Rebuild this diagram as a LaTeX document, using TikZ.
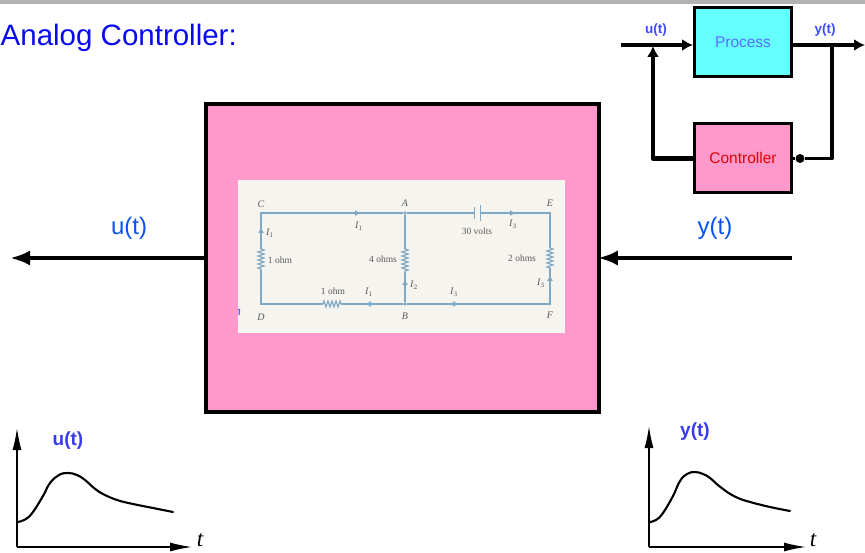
\documentclass[tikz,border=0pt]{standalone}
\usepackage{fontspec}
\setmainfont{Liberation Sans}
\newfontfamily\cserif{Liberation Serif}
\usetikzlibrary{arrows.meta,decorations.pathmorphing}
\definecolor{pinkbox}{HTML}{FF99CC}
\definecolor{cyanbox}{HTML}{66FFFF}
\definecolor{titleblue}{HTML}{0A0AF0}
\definecolor{lblblue}{HTML}{3A3AF0}
\definecolor{procblue}{HTML}{5A6CFF}
\definecolor{wire}{HTML}{7FA8C4}
\definecolor{ink}{HTML}{5A5A5A}
\definecolor{paper}{HTML}{F6F4EE}
\tikzset{
  x=1pt,y=-1pt,
  mainbox/.style={draw=black,line width=3.5pt,fill=pinkbox,minimum width=393pt,minimum height=308pt,inner sep=0pt},
  smallbox/.style={draw=black,line width=3pt,minimum width=97pt,minimum height=69pt,inner sep=0pt},
  bigarrow/.style={line width=4pt,-{Latex[length=20pt,width=15pt]}},
  sigline/.style={line width=3.4pt},
  sigarrow/.style={sigline,-{Latex[length=11pt,width=12pt]}},
  axisline/.style={line width=1.5pt,-{Latex[length=22pt,width=9pt]}},
  curveline/.style={line width=2.1pt,line cap=round},
  wireline/.style={draw=wire,line width=1.2pt},
  resist/.style={wireline,decorate,decoration={zigzag,amplitude=3pt,segment length=4pt}},
  tick/.style={wireline,-{Latex[length=6pt,width=6pt]}},
  ctxt/.style={text=ink,font=\cserif\fontsize{9.5}{10}\selectfont,inner sep=0pt},
  cvar/.style={text=ink,font=\cserif\itshape\fontsize{10}{10}\selectfont,inner sep=0pt},
  jdot/.style={circle,fill=wire,inner sep=0pt,minimum size=3.6pt},
  plain/.style={inner sep=0pt},
}
\begin{document}
\begin{tikzpicture}
\useasboundingbox (0,0) rectangle (865,553);
\fill[white] (0,0) rectangle (865,553);
\fill[black!30] (0,0) rectangle (865,4);

\node[plain,anchor=west,text=titleblue,font=\fontsize{29.5}{31}\selectfont] (title) at (0.5,38) {Analog Controller:};

% main box and signals
\node[mainbox] (main) at (402.5,258) {};
\coordinate (uend) at (10,258);
\coordinate (ystart) at (792,258);
\draw[bigarrow] (main.west) -- (uend);
\draw[bigarrow,shorten >=-3pt] (ystart) -- (main.east);
\node[plain,text=titleblue!70!cyan,font=\fontsize{24}{26}\selectfont] (ulab) at (129,228) {u(t)};
\node[plain,text=titleblue!70!cyan,font=\fontsize{24}{26}\selectfont] (ylab) at (715,228) {y(t)};

% circuit picture
\node[fill=paper,minimum width=327pt,minimum height=153pt,inner sep=0pt] (photo) at (401.5,256.5) {};
\coordinate (C) at (261,213);
\coordinate (E) at (550,213);
\coordinate (D) at (261,304);
\coordinate (F) at (550,304);
\node[jdot] (A) at (405,213) {};
\node[jdot] (B) at (405,304) {};
\coordinate (r1a) at (261,249); \coordinate (r1b) at (261,270);
\coordinate (r2a) at (405,249); \coordinate (r2b) at (405,272);
\coordinate (r3a) at (550,248); \coordinate (r3b) at (550,268);
\coordinate (r4a) at (323,304); \coordinate (r4b) at (341,304);
\coordinate (cap1) at (474.5,213); \coordinate (cap2) at (480.5,213);
\draw[wireline] (r1a) -- (C) -- (A) -- (cap1);
\draw[wireline] (cap2) -- (E) -- (r3a);
\draw[wireline] (r3b) -- (F) -- (B) -- (r4b);
\draw[wireline] (r4a) -- (D) -- (r1b);
\draw[wireline] (A) -- (r2a);
\draw[wireline] (r2b) -- (B);
\draw[resist] (r1a) -- (r1b);
\draw[resist] (r2a) -- (r2b);
\draw[resist] (r3a) -- (r3b);
\draw[resist] (r4a) -- (r4b);
\draw[wireline,line width=1.2pt] (474.5,207) -- (474.5,219);
\draw[wireline,line width=1.2pt] (480.5,205) -- (480.5,221);
\draw[tick] (352,213) -- (361,213);
\draw[tick] (507,213) -- (516,213);
\draw[tick] (261,236) -- (261,227);
\draw[tick] (405,288) -- (405,279);
\draw[tick] (550,284) -- (550,275);
\draw[tick] (374,304) -- (365,304);
\draw[tick] (458,304) -- (449,304);
\node[cvar] (lC) at (261,204) {C};
\node[cvar] (lA) at (405,203) {A};
\node[cvar] (lE) at (550,203) {E};
\node[cvar] (lD) at (261,317) {D};
\node[cvar] (lB) at (405,316) {B};
\node[cvar] (lF) at (550,315) {F};
\node[cvar] (i1) at (270,233) {I$_1$};
\node[cvar] (i2) at (359,226) {I$_1$};
\node[cvar] (i3) at (513,224) {I$_3$};
\node[cvar] (i4) at (541,283) {I$_3$};
\node[cvar] (i5) at (414,285) {I$_2$};
\node[cvar] (i6) at (454,292) {I$_3$};
\node[cvar] (i7) at (369,292) {I$_1$};
\node[ctxt] (v30) at (477,231) {30 volts};
\node[ctxt] (o1) at (280,260) {1 ohm};
\node[ctxt] (o4) at (383,259) {4 ohms};
\node[ctxt] (o2) at (522,258) {2 ohms};
\node[ctxt] (o1b) at (333,291) {1 ohm};
\draw[titleblue!70,line width=1.2pt] (238,309) -- (239.5,310) -- (239,315);

% block diagram
\node[smallbox,fill=cyanbox] (proc) at (743,42.5) {};
\node[smallbox,fill=pinkbox] (ctrl) at (743,158.5) {};
\node[plain,text=procblue,font=\fontsize{15.5}{17}\selectfont] (procl) at (743,42) {Process};
\node[plain,text=red!90!black,font=\fontsize{15.5}{17}\selectfont] (ctrll) at (743,158) {Controller};
\node[plain,text=procblue!70!blue,font=\bfseries\fontsize{13.5}{14}\selectfont] (ul) at (656,30) {u(t)};
\node[plain,text=procblue!70!blue,font=\bfseries\fontsize{13.5}{14}\selectfont] (yl) at (825,30) {y(t)};
\coordinate (inL) at (621,45);
\coordinate (outR) at (865,45);
\coordinate (sum) at (653,46);
\coordinate (fbL) at (653,158.5);
\coordinate (tap) at (832,45);
\coordinate (fbR) at (832,158.5);
\node[circle,fill=black,inner sep=0pt,minimum size=9pt] (fbdot) at (800,158.5) {};
\draw[sigarrow] (inL) -- (proc.west |- inL);
\draw[sigarrow] (proc.east |- outR) -- (outR);
\draw[sigline,line width=4.4pt,line join=round] (ctrl.west) -- (fbL) -- ([yshift=-10pt]sum);
\draw[sigarrow,line width=4.4pt] ([yshift=-14pt]sum) -- (sum);
\draw[sigline,line join=round] (tap) -- (fbR) -- (fbdot);
\draw[sigline] (fbdot) -- (ctrl.east);

% left plot
\coordinate (lo) at (17,547);
\coordinate (ly) at (17,428);
\coordinate (lx) at (192,547);
\draw[axisline] (lo) -- (ly);
\draw[axisline] (lo) -- (lx);
\draw[curveline] plot[smooth,tension=0.7] coordinates {(18,522) (26,519) (33,512) (43,496) (50,483) (59,475) (68,473) (77,475) (85,480) (94,488) (103,494) (117,500) (133,504) (153,508) (173,512)};
\node[plain,font=\cserif\itshape\fontsize{23}{24}\selectfont] (lt) at (200,540) {t};
\node[plain,text=lblblue,font=\bfseries\fontsize{19}{20}\selectfont] (lu) at (68,441) {u(t)};

% right plot
\coordinate (ro) at (649,547);
\coordinate (ry) at (649,426);
\coordinate (rx) at (806,547);
\draw[axisline] (ro) -- (ry);
\draw[axisline] (ro) -- (rx);
\draw[curveline] plot[smooth,tension=0.7] coordinates {(650,522) (656,520) (663,513) (673,496) (680,481) (687,474) (695,472) (703,474) (710,478) (719,486) (727,492) (738,498) (750,502) (770,507) (790,511)};
\node[plain,font=\cserif\itshape\fontsize{23}{24}\selectfont] (rt) at (813,540) {t};
\node[plain,text=lblblue,font=\bfseries\fontsize{19}{20}\selectfont] (ry2) at (695,432) {y(t)};
\end{tikzpicture}
\end{document}
